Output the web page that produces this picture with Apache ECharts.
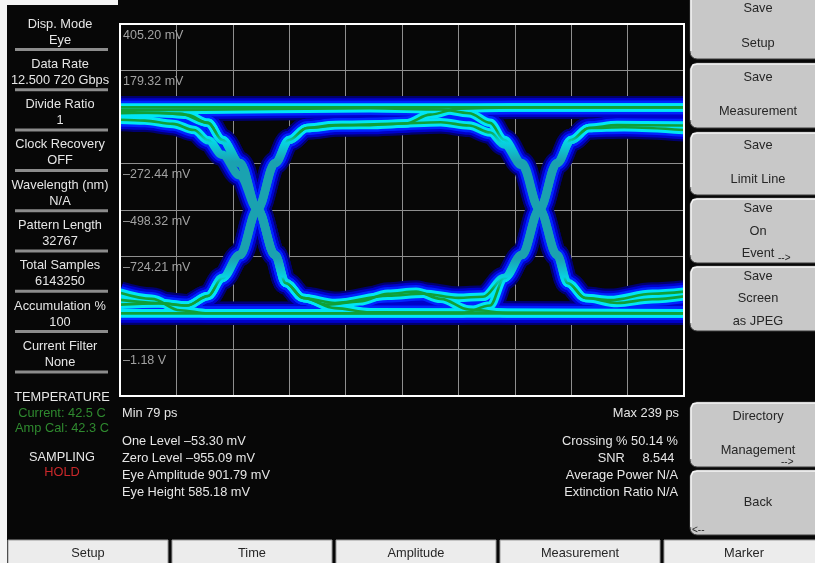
<!DOCTYPE html>
<html>
<head>
<meta charset="utf-8">
<script src="https://cdn.jsdelivr.net/npm/echarts@6/dist/echarts.min.js"></script>
<style>
html, body { margin: 0; padding: 0; background: #000; }
#chart { width: 815px; height: 563px; }
</style>
</head>
<body>
<div id="chart"></div>
<script>
// ---- axes: time in ps, voltage in mV ----
const timeMin = 79, timeMax = 239;
const timeDivs = [79, 95, 111, 127, 143, 159, 175, 191, 207, 223, 239];
const voltMin = -1401.84, voltMax = 405.20;
const voltDivs = [405.20, 179.32, -46.56, -272.44, -498.32, -724.21, -950.09, -1175.97, -1401.84];
const voltDivLabels = ['405.20 mV', '179.32 mV', '\u201346.56 mV', '\u2013272.44 mV', '\u2013498.32 mV',
                       '\u2013724.21 mV', '\u2013950.09 mV', '\u20131.18 V', ''];

// ---- eye traces, [ps, mV] ----
const runOfOnes  = [[79, 0], [239, 0]];
const runOfZeros = [[79, -1000], [239, -1000]];
const rise011 = [[79, -935], [90, -950], [98, -962], [104, -916], [108, -829], [113, -717], [118, -494],
                 [123, -270], [127, -158], [132, -100], [140, -86], [150, -86], [160, -78], [167, -35],
                 [175, -6], [190, 0], [239, 0]];
const rise001 = [[79, -1000], [176, -1000], [184, -962], [188, -829], [193, -717], [198, -494],
                 [203, -270], [207, -158], [212, -100], [220, -86], [239, -88]];
const fall100 = [[79, -28], [90, -26], [98, -36], [104, -75], [108, -158], [113, -270], [118, -494],
                 [123, -717], [126, -853], [131, -926], [138, -958], [147, -942], [155, -905],
                 [163, -895], [170, -930], [178, -982], [190, -1000], [239, -1000]];
const fall110 = [[79, -14], [96, -12], [150, -4], [170, -10], [178, -28], [184, -75], [188, -158],
                 [193, -270], [198, -494], [203, -717], [206, -853], [211, -926], [218, -936],
                 [230, -905], [239, -895]];
const pulse010 = [[79, -958], [90, -952], [98, -962], [104, -916], [108, -829], [113, -717], [118, -494],
                  [123, -270], [127, -158], [132, -100], [142, -86], [156, -80], [170, -72], [178, -88],
                  [184, -122], [188, -180], [193, -280], [198, -494], [203, -717], [206, -853],
                  [211, -926], [220, -950], [230, -932], [239, -918]];
const dip101 = [[79, -20], [96, -30], [104, -75], [108, -158], [113, -270], [118, -494], [123, -717],
                [126, -853], [131, -926], [140, -950], [155, -915], [165, -905], [175, -925],
                [182, -920], [188, -829], [193, -717], [198, -494], [203, -270], [207, -158],
                [212, -100], [222, -96], [239, -110]];
const lowStart = [[79, -900], [88, -930], [96, -985], [104, -1000], [239, -1000]];
const highStart = [[79, -60], [86, -64], [94, -80], [100, -110], [104, -160], [108, -230], [113, -330], [118, -494],
                   [123, -717], [126, -853], [131, -926], [140, -975], [150, -995], [239, -1000]];

const traces = [runOfOnes, runOfZeros, rise011, rise001, fall100, fall110, pulse010, dip101, lowStart, highStart];

// ---- instrument side panel ----
const sideTitles = ['Disp. Mode', 'Data Rate', 'Divide Ratio', 'Clock Recovery', 'Wavelength (nm)',
                    'Pattern Length', 'Total Samples', 'Accumulation %', 'Current Filter'];
const sideValues = ['Eye', '12.500 720 Gbps', '1', 'OFF', 'N/A', '32767', '6143250', '100', 'None'];

const measLeft = ['One Level \u201353.30 mV', 'Zero Level \u2013955.09 mV', 'Eye Amplitude 901.79 mV', 'Eye Height 585.18 mV'];
const measRight = ['Crossing % 50.14 %', 'SNR     8.544 ', 'Average Power N/A', 'Extinction Ratio N/A'];
const rangeLabels = ['Min 79 ps', 'Max 239 ps'];

const softKeys = [
  {y0: -10, y1: 59,  lines: [['Save', 8], ['Setup', 43]]},
  {y0: 63,  y1: 128, lines: [['Save', 77], ['Measurement', 111]]},
  {y0: 132, y1: 195, lines: [['Save', 145], ['Limit Line', 179]]},
  {y0: 198, y1: 263, lines: [['Save', 208], ['On', 231], ['Event', 253]], more: [778, 258, '-->']},
  {y0: 266, y1: 331, lines: [['Save', 276], ['Screen', 298], ['as JPEG', 321]]},
  {y0: 402, y1: 467, lines: [['Directory', 416], ['Management', 450]], more: [781, 462, '-->']},
  {y0: 470, y1: 535, lines: [['Back', 502]], more: [692, 530, '<--']}
];
const tabNames = ['Setup', 'Time', 'Amplitude', 'Measurement', 'Marker'];

const FONT = '"Liberation Sans", Arial, sans-serif';
const TXT = '12.8px ' + FONT;
const BG = '#070707';

// ---- layered strokes that imitate the hit-density colouring ----
// vertical colour ramp in screen space: bright rails, teal in the transitions
const coreRamp = () => new echarts.graphic.LinearGradient(0, 24, 0, 396, [
  {offset: 0, color: '#00eef8'}, {offset: 0.30, color: '#00e4f4'},
  {offset: 0.37, color: '#1aa2b0'}, {offset: 0.63, color: '#1aa2b0'},
  {offset: 0.70, color: '#00e4f4'}, {offset: 1, color: '#00eef8'}
], true);
const greenRamp = () => new echarts.graphic.LinearGradient(0, 24, 0, 396, [
  {offset: 0, color: 'rgba(16,160,56,1)'}, {offset: 0.285, color: 'rgba(16,160,56,1)'},
  {offset: 0.32, color: 'rgba(16,160,56,0)'}, {offset: 0.68, color: 'rgba(16,160,56,0)'},
  {offset: 0.715, color: 'rgba(16,160,56,1)'}, {offset: 1, color: 'rgba(16,160,56,1)'}
], true);
const strokeLayers = [
  {width: 23, color: () => '#000070'},
  {width: 18.5, color: () => '#0000cc'},
  {width: 13.5, color: () => '#0024ff'},
  {width: 8.5, color: coreRamp},
  {width: 2.6, color: greenRamp}
];
const series = [];
strokeLayers.forEach((layer, li) => {
  traces.forEach(tr => {
    series.push({
      type: 'line', data: tr, smooth: 0.35, smoothMonotone: 'x', symbol: 'none', silent: true,
      z: 2 + li, animation: false,
      lineStyle: {width: layer.width, color: layer.color(), cap: 'butt', join: 'round'}
    });
  });
});

// ---- panel graphics ----
const graphics = [];
const addText = (text, x, y, fill, align, z) => graphics.push({
  type: 'text', z: z || 70,
  style: {text: text, x: x, y: y, fill: fill, font: TXT, align: align || 'center', verticalAlign: 'middle'}
});
graphics.push({type: 'rect', shape: {x: 0, y: 0, width: 7, height: 563}, style: {fill: '#f4f4f4'}, z: 65});
graphics.push({type: 'rect', shape: {x: 0, y: 0, width: 118, height: 5}, style: {fill: '#f4f4f4'}, z: 65});
sideTitles.forEach((t, i) => {
  const y = 24 + i * 40.3;
  addText(t, 60, y, '#e6e6e6');
  addText(sideValues[i], 60, y + 16, '#e6e6e6');
  graphics.push({type: 'rect', shape: {x: 15, y: y + 24, width: 93, height: 3}, style: {fill: '#8c8c8c'}, z: 65});
});
addText('TEMPERATURE', 62, 397, '#e6e6e6');
addText('Current: 42.5 C', 62, 413, '#2f8a2f');
addText('Amp Cal: 42.3 C', 62, 428, '#2f8a2f');
addText('SAMPLING', 62, 457, '#e6e6e6');
addText('HOLD', 62, 472, '#c8282a');

// range + measurement readouts under the plot
addText(rangeLabels[0], 122, 413, '#e6e6e6', 'left');
addText(rangeLabels[1], 679, 413, '#e6e6e6', 'right');
measLeft.forEach((t, i) => addText(t, 122, 441 + i * 17, '#e6e6e6', 'left'));
measRight.forEach((t, i) => addText(t, 678, 441 + i * 17, '#e6e6e6', 'right'));

// soft keys on the right
softKeys.forEach(k => {
  graphics.push({type: 'rect', z: 66, shape: {x: 690, y: k.y0, width: 130, height: k.y1 - k.y0, r: [7, 0, 0, 7]},
                 style: {fill: '#c8c8c8', stroke: '#3a3a3a', lineWidth: 1}});
  graphics.push({type: 'polyline', z: 67, shape: {points: [[691, k.y1 - 8], [691, k.y0 + 6], [693, k.y0 + 2], [697, k.y0 + 1], [815, k.y0 + 1]]},
                 style: {stroke: '#f6f6f6', lineWidth: 1.5, fill: null}});
  k.lines.forEach(l => addText(l[0], 758, l[1], '#262626'));
  if (k.more) {
    graphics.push({type: 'text', z: 70, style: {text: k.more[2], x: k.more[0], y: k.more[1], fill: '#262626', font: '10px ' + FONT, align: 'left', verticalAlign: 'middle'}});
  }
});

// bottom tabs
tabNames.forEach((t, i) => {
  const x0 = 8 + i * 164;
  graphics.push({type: 'rect', z: 66, shape: {x: x0, y: 540, width: 160, height: 25}, style: {fill: '#ececec', stroke: '#9a9a9a', lineWidth: 1}});
  addText(t, x0 + 80, 553, '#262626');
});

// mask any stroke overhang at the plot's side edges, then the frame
graphics.push({type: 'rect', shape: {x: 109, y: 60, width: 10, height: 300}, style: {fill: BG}, z: 55});
graphics.push({type: 'rect', shape: {x: 685, y: 60, width: 5, height: 300}, style: {fill: BG}, z: 55});
graphics.push({type: 'rect', shape: {x: 120, y: 24, width: 564, height: 372}, style: {fill: null, stroke: '#ffffff', lineWidth: 2}, z: 60});

const chart = echarts.init(document.getElementById('chart'), null, {renderer: 'canvas'});
chart.setOption({
  backgroundColor: BG,
  animation: false,
  grid: {left: 120, top: 24, width: 564, height: 372, show: false},
  xAxis: {
    type: 'value', min: timeMin, max: timeMax,
    axisLine: {show: false},
    axisTick: {show: false, customValues: timeDivs},
    axisLabel: {show: false, customValues: timeDivs},
    splitLine: {show: true, lineStyle: {color: '#8e8e8e', width: 1}}
  },
  yAxis: {
    type: 'value', min: voltMin, max: voltMax,
    axisLine: {show: false},
    axisTick: {show: false, customValues: voltDivs},
    axisLabel: {
      show: true, inside: true, customValues: voltDivs, margin: 3,
      verticalAlign: 'top', padding: [5, 0, 0, 0],
      color: '#a2a2a2', fontSize: 12.5, fontFamily: FONT,
      formatter: v => {
        const i = voltDivs.findIndex(d => Math.abs(d - v) < 0.01);
        return i >= 0 ? voltDivLabels[i] : '';
      }
    },
    splitLine: {show: true, lineStyle: {color: '#8e8e8e', width: 1}}
  },
  series: series,
  graphic: graphics
});
</script>
</body>
</html>
